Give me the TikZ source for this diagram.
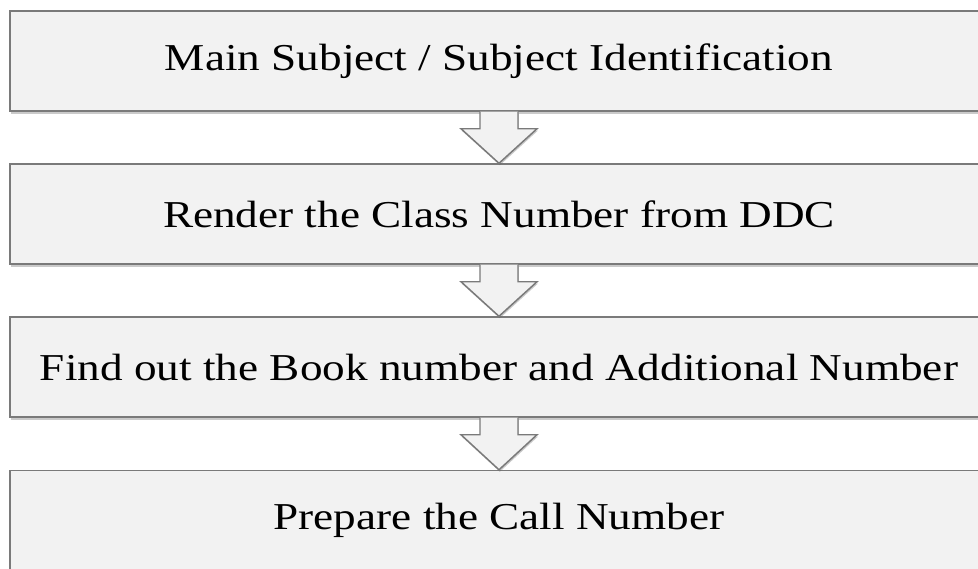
\documentclass[tikz,border=0pt]{standalone}
\usepackage{fontspec}
\usepackage{graphicx}
\setmainfont{Liberation Serif}
\usetikzlibrary{calc,shadows}
\definecolor{boxfill}{HTML}{F2F2F2}
\definecolor{boxline}{HTML}{7A7A7A}
\newcommand\widetext[1]{\scalebox{1.19}[1]{#1}}
\tikzset{
  x=0.75pt, y=-0.75pt,
  stepbox/.style={rectangle, draw=boxline, line width=1.1pt, fill=boxfill,
    minimum width=733.5pt, minimum height=75pt, inner sep=0pt,
    font=\fontsize{28.5}{30}\selectfont,
    drop shadow={shadow xshift=0.6pt, shadow yshift=-2pt, opacity=0.35, fill=black!60}},
  flowarrow/.style={fill=boxfill, draw=none,
    drop shadow={shadow xshift=0.6pt, shadow yshift=-1.5pt, opacity=0.35, fill=black!60}},
  flowedge/.style={draw=boxline, line width=1.1pt, line join=miter}
}
\newcommand\downarrowshape[2]{%
  \path[flowarrow] ($(#1.south)+(-19,0)$) -- ($(#1.south)+(-19,17)$) -- ($(#1.south)+(-38,17)$)
     -- (#2.north) -- ($(#1.south)+(38,17)$) -- ($(#1.south)+(19,17)$) -- ($(#1.south)+(19,0)$) -- cycle;
  \draw[flowedge] ($(#1.south)+(-19,0)$) -- ($(#1.south)+(-19,17)$) -- ($(#1.south)+(-38,17)$)
     -- (#2.north) -- ($(#1.south)+(38,17)$) -- ($(#1.south)+(19,17)$) -- ($(#1.south)+(19,0)$);
}
\begin{document}
\begin{tikzpicture}
\useasboundingbox (0,0) rectangle (978,568);
\begin{scope}
\clip (0,0) rectangle (978,568);
\node[stepbox] (b1) at (499,61) {\widetext{Main Subject / Subject Identification}};
\node[stepbox] (b2) at (499,214) {\widetext{Render the Class Number from DDC}};
\node[stepbox] (b3) at (499,367) {\widetext{Find out the Book number and Additional Number}};
\node[stepbox] (b4) at (499,520.5) {\widetext{Prepare the Call Number}};
\downarrowshape{b1}{b2}
\downarrowshape{b2}{b3}
\downarrowshape{b3}{b4}
\end{scope}
\end{tikzpicture}
\end{document}
